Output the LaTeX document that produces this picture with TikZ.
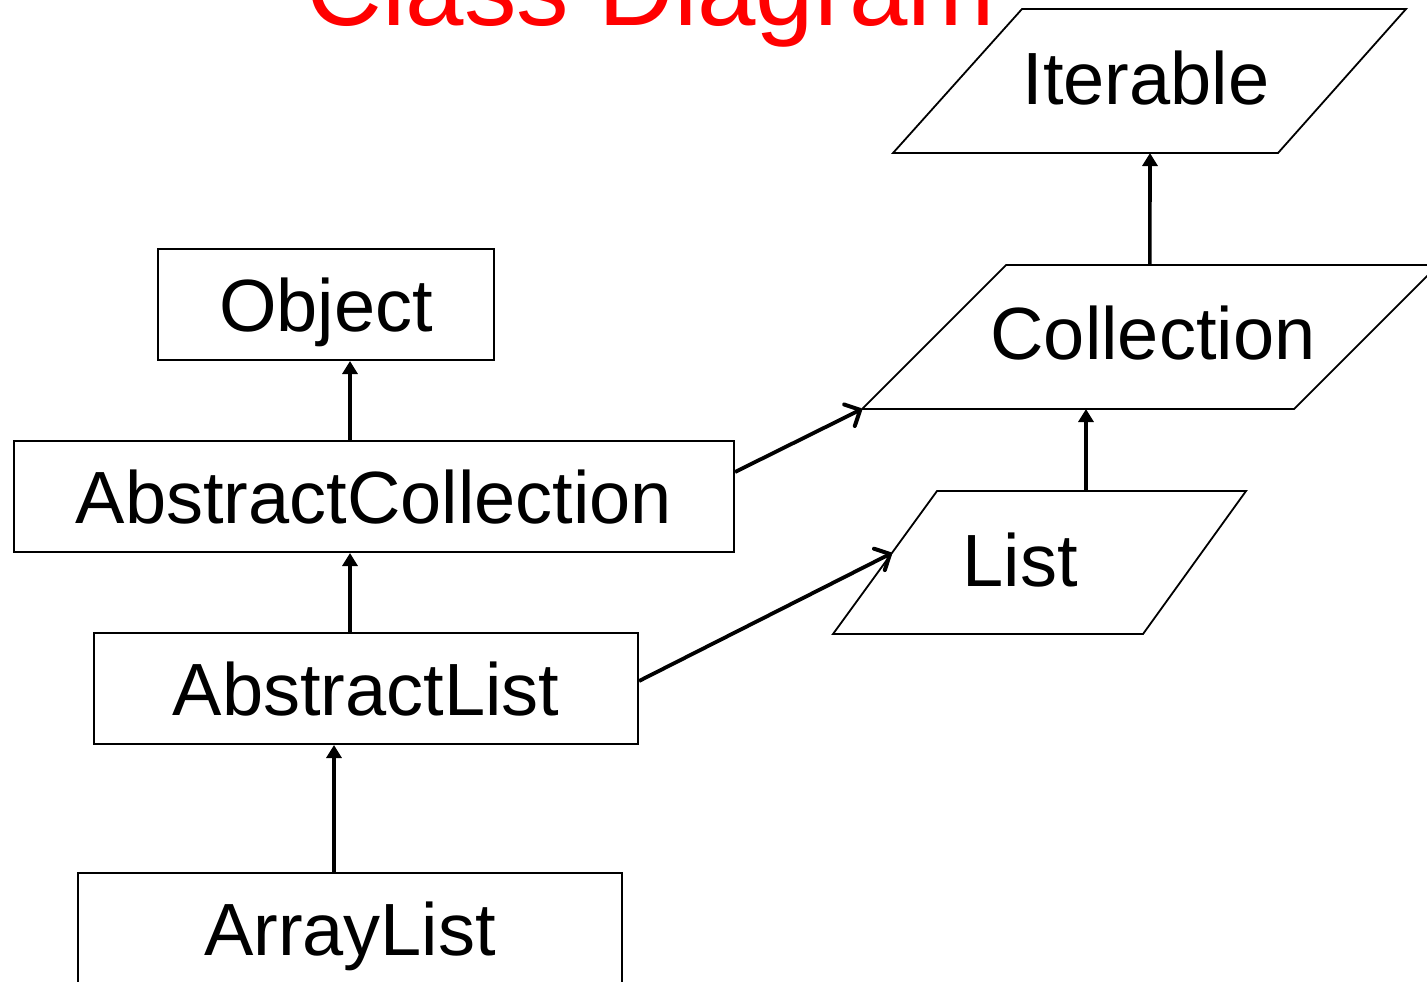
\documentclass[tikz,border=0pt]{standalone}
\usepackage{fontspec}
\setmainfont{Liberation Sans}
\usetikzlibrary{arrows.meta,calc}

\begin{document}
\begin{tikzpicture}[x=0.5pt,y=-0.5pt,
    cls/.style={draw, line width=1pt, inner sep=0pt, minimum height=55.5pt,
        font=\fontsize{37}{44}\selectfont, text height=26.5pt, text depth=0pt},
    lbl/.style={inner sep=0pt, font=\fontsize{37}{44}\selectfont,
        text height=26.5pt, text depth=0pt},
    iface/.style={line width=0.9pt},
    ext/.style={line width=1.8pt, -{Triangle[length=6.5pt,width=7.5pt]}},
    impl/.style={line width=1.9pt, -{Straight Barb[length=6pt,width=12pt,line width=2pt,round]}}]

        \useasboundingbox (0,0) rectangle (1427,981);
        \clip (0,0) rectangle (1427,981);

        \node[anchor=base, text=red, inner sep=0pt, font=\fontsize{52.5}{60}\selectfont] (title) at (651,25) {Class Diagram};

        % classes
        \node[cls, minimum width=168pt] (obj) at (326,304.5) {Object};
        \node[cls, minimum width=360pt] (acoll) at (374,496.5) {AbstractCollection};
        \node[cls, minimum width=272pt] (alist) at (366,688.5) {AbstractList};
        \node[cls, minimum width=272pt] (arrlist) at (350,928.5) {ArrayList};

        % interfaces
        \coordinate (it-bl) at (893,153);  \coordinate (it-br) at (1278,153);
        \coordinate (it-tr) at (1406,9);   \coordinate (it-tl) at (1022,9);
        \draw[iface] (it-bl) -- (it-br) -- (it-tr) -- (it-tl) -- cycle;
        \node[lbl] (iter) at (1146,78) {Iterable};

        \coordinate (co-bl) at (862,409);  \coordinate (co-br) at (1294,409);
        \coordinate (co-tr) at (1438,265); \coordinate (co-tl) at (1006,265);
        \draw[iface] (co-bl) -- (co-br) -- (co-tr) -- (co-tl) -- cycle;
        \node[lbl] (coll) at (1153,333) {Collection};

        \coordinate (li-bl) at (833,634);  \coordinate (li-br) at (1143,634);
        \coordinate (li-tr) at (1246,491); \coordinate (li-tl) at (937,491);
        \draw[iface] (li-bl) -- (li-br) -- (li-tr) -- (li-tl) -- cycle;
        \node[lbl] (list) at (1020,560) {List};

        % inheritance
        \draw[ext] ($(acoll.north)+(-24,0)$) -- ($(obj.south)+(24,0)$);
        \draw[ext] ($(alist.north)+(-16,0)$) -- ($(acoll.south)+(-24,0)$);
        \draw[ext] ($(arrlist.north)+(-16,0)$) -- ($(alist.south)+(-32,0)$);
        \draw[ext] ($(co-tl)!0.333!(co-tr)$) -- ($(it-bl)!0.6675!(it-br)$);
        \draw[ext] ($(li-tl)!0.482!(li-tr)$) -- ($(co-bl)!0.5185!(co-br)$);

        % implements
        \draw[impl] ($(acoll.east)+(0,-24.5)$) -- (co-bl);
        \draw[impl] ($(alist.east)+(0,-7.5)$) -- ($(li-bl)!0.566!(li-tl)$);

    \end{tikzpicture}
\end{document}
